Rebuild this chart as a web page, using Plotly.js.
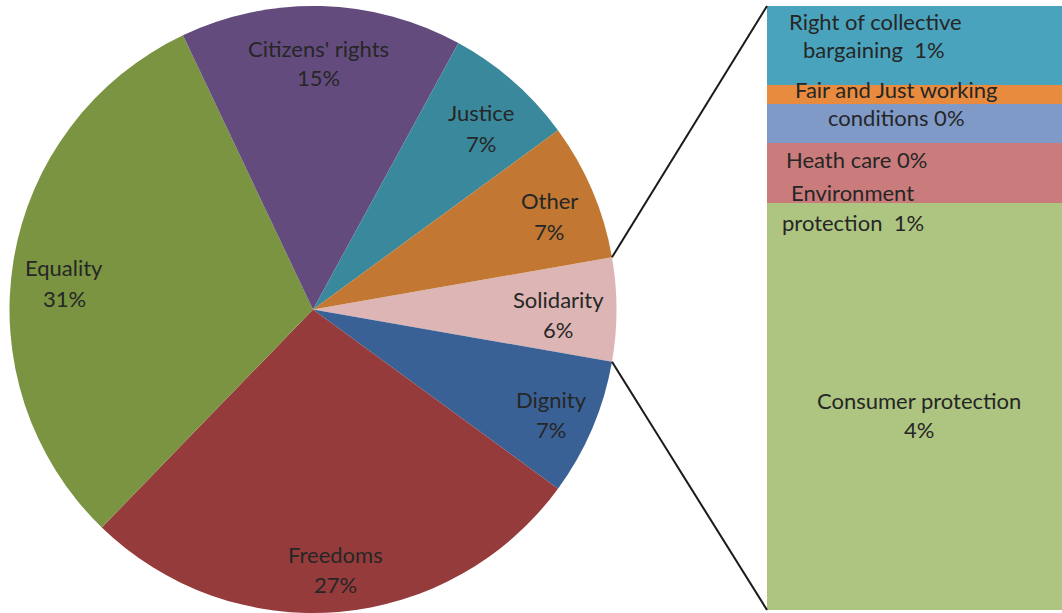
<!DOCTYPE html>
<html>
<head>
<meta charset="utf-8">
<script src="https://cdn.plot.ly/plotly-3.0.1.min.js"></script>
<style>html,body{margin:0;padding:0;background:#fff;}#chart{width:1062px;height:613px;}</style>
</head>
<body>
<div id="chart"></div>
<script>
// ---- data ----
const pieLabels = ['Solidarity', 'Dignity', 'Freedoms', 'Equality', "Citizens' rights", 'Justice', 'Other'];
const pieValues = [5.5, 7.3, 27.2, 30.7, 15.0, 7.0, 7.3];
const pieColors = ['#DDB5B4', '#3A6195', '#953B3B', '#7A9441', '#634C7D', '#3A889C', '#C27832'];

const barLabels = ['Consumer protection', 'Environment protection', 'Heath care', 'Fair and Just working conditions', 'Right of collective bargaining'];
const barValues = [3.71, 0.54, 0.36, 0.17, 0.72];
const barColors = ['#ADC581', '#CA7B7B', '#7F9AC7', '#E88B3E', '#4AA3BC'];

// ---- layout geometry ----
const W = 1062, H = 613, MT = 6;
const cx = 313, cy = 309.5, R = 303.5;
const px = x => x / W;
const py = y => (H - y) / (H - MT);

const total = pieValues.reduce((a, b) => a + b, 0);
const pct = v => Math.round(v / total * 100) + '%';
const solidarityShare = pieValues[0] / total * 360;
const rotation = 90 - solidarityShare / 2;

// label line positions (pixel centres)
const pieLabelPos = {
  'Solidarity': [558, 299],
  'Dignity': [551, 399],
  'Freedoms': [335, 554],
  'Equality': [64, 268],
  "Citizens' rights": [318, 48],
  'Justice': [481, 113],
  'Other': [549, 201]
};
const barLabelLines = {
  'Right of collective bargaining': [['Right of collective', 875, 21], ['bargaining  ', 874, 50]],
  'Fair and Just working conditions': [['Fair and Just working', 896, 89], ['conditions ', 896, 118]],
  'Heath care': [['Heath care ', 856, 159]],
  'Environment protection': [['Environment', 853, 193], ['protection  ', 853, 222]],
  'Consumer protection': [['Consumer protection', 919, 400], ['', 919, 429]]
};

const font = {family: 'Lato, "Open Sans", sans-serif', size: 22, color: '#262626'};
const annotations = [];
pieLabels.forEach((lab, i) => {
  const [x, y] = pieLabelPos[lab];
  annotations.push({text: lab, x: px(x), y: py(y), xref: 'paper', yref: 'paper', showarrow: false, font: font, xanchor: 'center', yanchor: 'middle'});
  annotations.push({text: pct(pieValues[i]), x: px(x), y: py(y + 30), xref: 'paper', yref: 'paper', showarrow: false, font: font, xanchor: 'center', yanchor: 'middle'});
});
barLabels.forEach((lab, i) => {
  const lines = barLabelLines[lab];
  lines.forEach((ln, j) => {
    const t = (j === lines.length - 1) ? ln[0] + pct(barValues[i]) : ln[0];
    annotations.push({text: t, x: px(ln[1]), y: py(ln[2]), xref: 'paper', yref: 'paper', showarrow: false, font: font, xanchor: 'center', yanchor: 'middle'});
  });
});

// connector lines from Solidarity slice edges to bar
const a1 = (90 - solidarityShare / 2) * Math.PI / 180;
const topPt = [cx + R * Math.sin(a1), cy - R * Math.cos(a1)];
const a2 = (90 + solidarityShare / 2) * Math.PI / 180;
const botPt = [cx + R * Math.sin(a2), cy - R * Math.cos(a2)];
const barLeft = 767, barTop = 6, barBottom = 610;
const shapes = [
  {type: 'line', xref: 'paper', yref: 'paper', x0: px(topPt[0]), y0: py(topPt[1]), x1: px(barLeft), y1: py(barTop), line: {color: '#1a1a1a', width: 2}},
  {type: 'line', xref: 'paper', yref: 'paper', x0: px(botPt[0]), y0: py(botPt[1]), x1: px(barLeft), y1: py(barBottom), line: {color: '#1a1a1a', width: 2}}
];

const traces = [{
  type: 'pie', labels: pieLabels, values: pieValues, sort: false, direction: 'clockwise',
  rotation: rotation, marker: {colors: pieColors, line: {width: 0}}, textinfo: 'none', hoverinfo: 'none',
  domain: {x: [px(cx - R), px(cx + R)], y: [0, 1]}, showlegend: false
}];
barLabels.forEach((lab, i) => {
  traces.push({type: 'bar', name: lab, x: [0], y: [barValues[i]], width: 1, marker: {color: barColors[i], line: {width: 0}}, hoverinfo: 'none', showlegend: false, xaxis: 'x', yaxis: 'y'});
});
const barTotal = barValues.reduce((a, b) => a + b, 0);

const layout = {
  width: W, height: H,
  margin: {l: 0, r: 0, t: MT, b: 0, pad: 0},
  paper_bgcolor: '#ffffff', plot_bgcolor: 'rgba(0,0,0,0)',
  barmode: 'stack', bargap: 0, showlegend: false,
  xaxis: {domain: [px(barLeft), 1], range: [-0.5, 0.5], visible: false, fixedrange: true},
  yaxis: {domain: [py(barBottom), py(barTop)], range: [0, barTotal], visible: false, fixedrange: true},
  annotations: annotations, shapes: shapes
};
Plotly.newPlot('chart', traces, layout, {displayModeBar: false, staticPlot: true});
</script>
</body>
</html>
